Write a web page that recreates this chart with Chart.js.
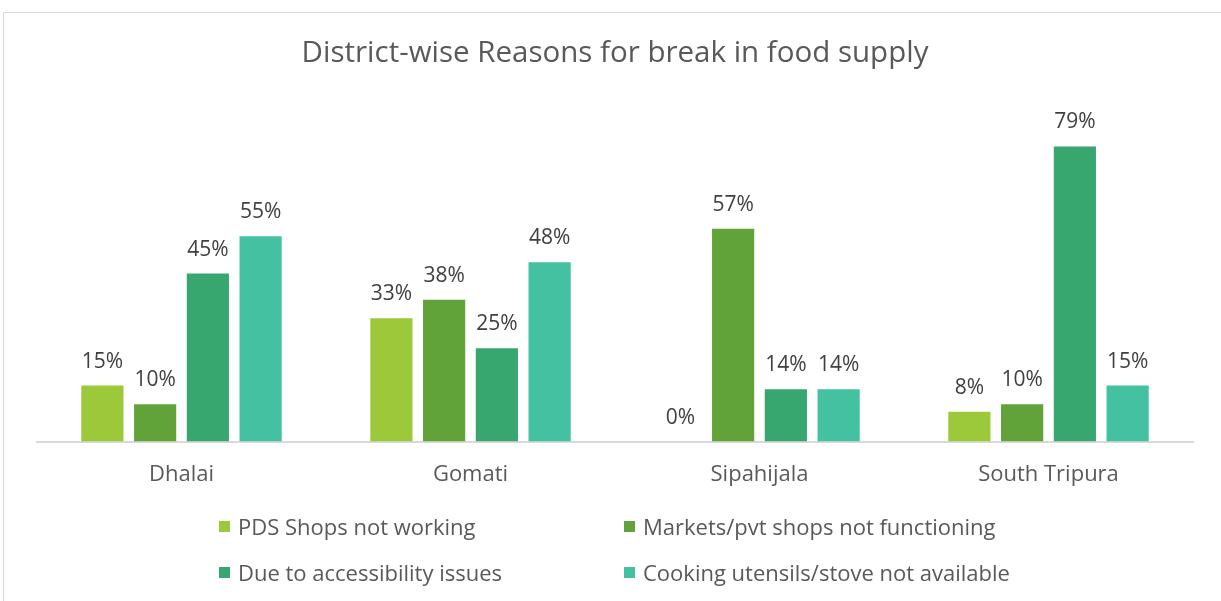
<!DOCTYPE html>
<html>
<head>
<meta charset="utf-8">
<script src="https://cdn.jsdelivr.net/npm/chart.js@4"></script>
<style>
  html, body { margin: 0; padding: 0; background: #fff; }
  #frame {
    position: absolute; left: 3px; top: 12px; width: 1230px; height: 600px;
    border: 1px solid #d9d9d9; box-sizing: border-box;
  }
  #wrap { position: absolute; left: 0; top: 0; width: 1221px; height: 601px; }
  #legend {
    position: absolute; left: 219px; top: 511px; width: 820px;
    font-family: "Open Sans", sans-serif; font-size: 22px; color: #595959;
  }
  .item { position: absolute; display: flex; align-items: center; white-space: nowrap; }
  .box { width: 11px; height: 11px; margin-right: 8px; }
</style>
</head>
<body>
<div id="frame"></div>
<div id="wrap"><canvas id="food-supply"></canvas></div>
<div id="legend"></div>
<script>
const districts = ["Dhalai", "Gomati", "Sipahijala", "South Tripura"];
const reasons = [
	"PDS Shops not working",
	"Markets/pvt shops not functioning",
	"Due to accessibility issues",
	"Cooking utensils/stove not available"
];
const pdsShops = [15, 33, 0, 8];
const markets = [10, 38, 57, 10];
const accessibility = [45, 25, 14, 79];
const utensils = [55, 48, 14, 15];
const colours = ["#9bc93a", "#62a339", "#37a76f", "#43c1a0"];

const series = [pdsShops, markets, accessibility, utensils];

// percent labels above each bar
const valueLabels = {
	id: "valueLabels",
	afterDatasetsDraw(chart) {
		const ctx = chart.ctx;
		ctx.save();
		ctx.font = "21px 'Open Sans', sans-serif";
		ctx.fillStyle = "#404040";
		ctx.textAlign = "center";
		ctx.textBaseline = "alphabetic";
		chart.data.datasets.forEach((ds, i) => {
			chart.getDatasetMeta(i).data.forEach((bar, j) => {
				ctx.fillText(ds.data[j] + "%", bar.x, bar.y - 18);
			});
		});
		ctx.restore();
	}
};

new Chart(document.getElementById("food-supply"), {
	type: "bar",
	data: {
		labels: districts,
		datasets: series.map((values, i) => ({
			label: reasons[i],
			data: values,
			backgroundColor: colours[i],
			categoryPercentage: 0.73,
			barPercentage: 0.8
		}))
	},
	options: {
		responsive: true,
		maintainAspectRatio: false,
		animation: false,
		layout: { padding: { left: 37, right: 28, top: 0, bottom: 101 } },
		scales: {
			x: {
				grid: { display: false },
				border: { color: "#d9d9d9", width: 2 },
				ticks: {
					color: "#595959",
					font: { family: "'Open Sans', sans-serif", size: 22 },
					padding: 12
				}
			},
			y: { display: false, min: 0, max: 90 }
		},
		plugins: {
			legend: { display: false },
			tooltip: { enabled: false },
			title: {
				display: true,
				text: "District-wise Reasons for break in food supply",
				color: "#595959",
				font: { family: "'Open Sans', sans-serif", size: 29.5, weight: "normal" },
				padding: { top: 36, bottom: 34 }
			}
		}
	},
	plugins: [valueLabels]
});

// two-column legend underneath
const legend = document.getElementById("legend");
reasons.forEach((name, i) => {
	const item = document.createElement("div");
	item.className = "item";
	item.style.left = (i % 2 ? 405 : 0) + "px";
	item.style.top = (Math.floor(i / 2) * 46) + "px";
	item.innerHTML = '<span class="box" style="background:' + colours[i] + '"></span>' + name;
	legend.appendChild(item);
});
</script>
</body>
</html>
